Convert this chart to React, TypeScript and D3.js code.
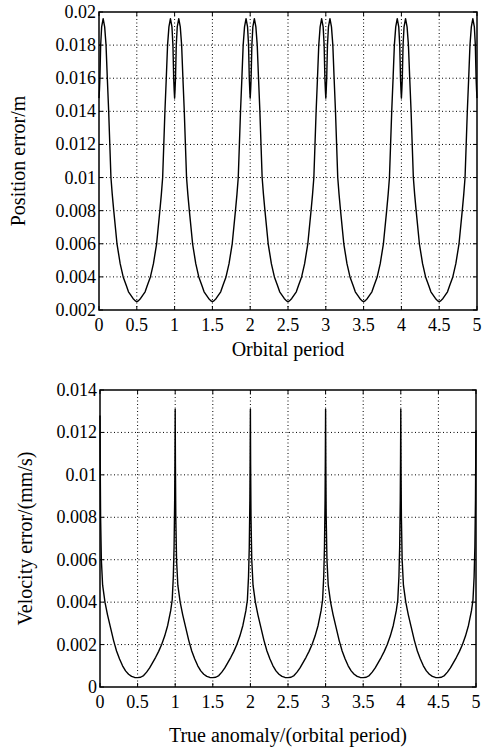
import React from 'react';
import * as d3 from 'd3';

// ---------- data ----------
const periodStarts = [0, 1, 2, 3, 4];
const xTicks = [0, 0.5, 1, 1.5, 2, 2.5, 3, 3.5, 4, 4.5, 5];
const xTickLabels = ['0', '0.5', '1', '1.5', '2', '2.5', '3', '3.5', '4', '4.5', '5'];

const posYTicks = [0.002, 0.004, 0.006, 0.008, 0.01, 0.012, 0.014, 0.016, 0.018, 0.02];
const posYTickLabels = ['0.002', '0.004', '0.006', '0.008', '0.01', '0.012', '0.014', '0.016', '0.018', '0.02'];

const velYTicks = [0, 0.002, 0.004, 0.006, 0.008, 0.01, 0.012, 0.014];
const velYTickLabels = ['0', '0.002', '0.004', '0.006', '0.008', '0.01', '0.012', '0.014'];

// position error over one orbital period (phase within period, value in m)
const positionPhase = [0, 0.006, 0.012, 0.022, 0.035, 0.055, 0.075, 0.093, 0.11, 0.128, 0.143, 0.158, 0.175, 0.195, 0.238, 0.28, 0.32, 0.36, 0.39, 0.42, 0.45, 0.48, 0.5,
  0.52, 0.55, 0.58, 0.61, 0.64, 0.68, 0.72, 0.762, 0.805, 0.825, 0.842, 0.857, 0.872, 0.89, 0.907, 0.925, 0.945, 0.965, 0.978, 0.988, 0.994];
const positionCycle = [0.0148, 0.0153, 0.016, 0.018, 0.0191, 0.0196, 0.0191, 0.018, 0.016, 0.014, 0.012, 0.01, 0.009, 0.008, 0.006, 0.0048, 0.004, 0.0035, 0.0031, 0.0029, 0.0027, 0.00255, 0.0025,
  0.00255, 0.0027, 0.0029, 0.0031, 0.0035, 0.004, 0.0048, 0.006, 0.008, 0.009, 0.01, 0.012, 0.014, 0.016, 0.018, 0.0191, 0.0196, 0.0191, 0.018, 0.016, 0.0153];
const positionEnd = 0.0148;

// velocity error over one orbital period (phase within period, value in mm/s)
const velocityPhase = [0, 0.003, 0.008, 0.018, 0.035, 0.066, 0.1, 0.14, 0.18, 0.22, 0.26, 0.3, 0.34, 0.38, 0.42, 0.46, 0.5,
  0.54, 0.58, 0.62, 0.66, 0.7, 0.74, 0.78, 0.82, 0.86, 0.9, 0.94, 0.96, 0.975, 0.985, 0.993, 0.997];
const velocityCycle = [0.0131, 0.0105, 0.008, 0.006, 0.0048, 0.004, 0.0034, 0.0028, 0.0022, 0.0017, 0.00132, 0.001, 0.00076, 0.0006, 0.0005, 0.00045, 0.00044,
  0.00046, 0.00054, 0.0007, 0.0009, 0.00115, 0.0014, 0.00168, 0.002, 0.0024, 0.0029, 0.0036, 0.0041, 0.0052, 0.0066, 0.0088, 0.011];
const velocityPeaks = [0.0128, 0.0131, 0.0131, 0.0131, 0.0131];
const velocityEnd = 0.0121;

type Pt = { t: number; v: number };

function buildPosition(): Pt[] {
  const pts: Pt[] = [];
  periodStarts.forEach((k) => {
    positionPhase.forEach((p, i) => pts.push({ t: k + p, v: positionCycle[i] }));
  });
  pts.push({ t: 5, v: positionEnd });
  return pts;
}

function buildVelocity(): Pt[] {
  const pts: Pt[] = [];
  periodStarts.forEach((k, ki) => {
    velocityPhase.forEach((p, i) => pts.push({ t: k + p, v: i === 0 ? velocityPeaks[ki] : velocityCycle[i] }));
  });
  pts.push({ t: 5, v: velocityEnd });
  return pts;
}

const FONT = '"Liberation Serif", "Times New Roman", serif';

type PanelProps = {
  left: number; right: number; top: number; bottom: number;
  yDomain: [number, number]; yTicks: number[]; yTickLabels: string[];
  data: Pt[]; yLabel: string; xLabel: string; xLabelY: number; yLabelX: number;
};

function Panel(p: PanelProps) {
  const x = d3.scaleLinear().domain([0, 5]).range([p.left, p.right]);
  const y = d3.scaleLinear().domain(p.yDomain).range([p.bottom, p.top]);
  const line = d3.line<Pt>().x((d) => x(d.t)).y((d) => y(d.v));
  const tl = 4;
  const midY = (p.top + p.bottom) / 2;
  return (
    <g>
      {xTicks.slice(1, -1).map((t) => (
        <line key={'gx' + t} x1={x(t)} x2={x(t)} y1={p.top} y2={p.bottom} stroke="#000" strokeWidth={1} strokeDasharray="1,2.5" />
      ))}
      {p.yTicks.slice(1, -1).map((t) => (
        <line key={'gy' + t} x1={p.left} x2={p.right} y1={y(t)} y2={y(t)} stroke="#000" strokeWidth={1} strokeDasharray="1,2.5" />
      ))}
      <path d={line(p.data) || ''} fill="none" stroke="#000" strokeWidth={1.4} strokeLinejoin="round" />
      {xTicks.map((t, i) => (
        <g key={'tx' + t}>
          <line x1={x(t)} x2={x(t)} y1={p.bottom} y2={p.bottom - tl} stroke="#000" strokeWidth={1} />
          <line x1={x(t)} x2={x(t)} y1={p.top} y2={p.top + tl} stroke="#000" strokeWidth={1} />
          <text x={x(t)} y={p.bottom + 21} textAnchor="middle" fontFamily={FONT} fontSize={18}>{xTickLabels[i]}</text>
        </g>
      ))}
      {p.yTicks.map((t, i) => (
        <g key={'ty' + t}>
          <line x1={p.left} x2={p.left + tl} y1={y(t)} y2={y(t)} stroke="#000" strokeWidth={1} />
          <line x1={p.right} x2={p.right - tl} y1={y(t)} y2={y(t)} stroke="#000" strokeWidth={1} />
          <text x={p.left - 3} y={y(t) + 6} textAnchor="end" fontFamily={FONT} fontSize={18}>{p.yTickLabels[i]}</text>
        </g>
      ))}
      <rect x={p.left} y={p.top} width={p.right - p.left} height={p.bottom - p.top} fill="none" stroke="#000" strokeWidth={1.5} />
      <text x={(p.left + p.right) / 2} y={p.xLabelY} textAnchor="middle" fontFamily={FONT} fontSize={20}>{p.xLabel}</text>
      <text transform={`translate(${p.yLabelX},${midY}) rotate(-90)`} textAnchor="middle" fontFamily={FONT} fontSize={20}>{p.yLabel}</text>
    </g>
  );
}

export default function App() {
  const pos = buildPosition();
  const vel = buildVelocity();
  return (
    <svg width={496} height={748} style={{ position: 'absolute', left: 0, top: 0, background: '#fff' }}>
      <rect x={0} y={0} width={496} height={748} fill="#fff" />
      <Panel left={99} right={477} top={12} bottom={310} yDomain={[0.002, 0.02]} yTicks={posYTicks} yTickLabels={posYTickLabels}
        data={pos} yLabel="Position error/m" xLabel="Orbital period" xLabelY={356} yLabelX={25} />
      <Panel left={100} right={476} top={390} bottom={687} yDomain={[0, 0.014]} yTicks={velYTicks} yTickLabels={velYTickLabels}
        data={vel} yLabel="Velocity error/(mm/s)" xLabel="True anomaly/(orbital period)" xLabelY={742} yLabelX={32} />
    </svg>
  );
}
